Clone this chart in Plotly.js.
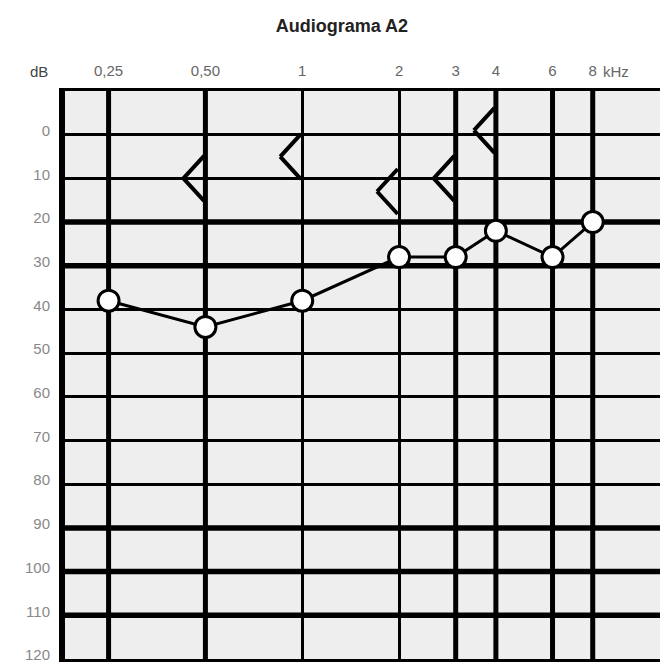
<!DOCTYPE html>
<html>
<head>
<meta charset="utf-8">
<script src="https://cdn.plot.ly/plotly-3.0.1.min.js"></script>
<style>
  html, body { margin: 0; padding: 0; background: #ffffff; }
  #chart { width: 660px; height: 664px; }
</style>
</head>
<body>
<div id="chart"></div>
<script>
// Frequencies (kHz) and their tick labels
const freqs = [0.25, 0.5, 1, 2, 3, 4, 6, 8];
const freqLabels = ['0,25', '0,50', '1', '2', '3', '4', '6', '8'];
// Air conduction thresholds (dB HL), circles "O"
const airDb = [38, 44, 38, 28, 28, 22, 28, 20];
// Bone conduction thresholds (dB HL), symbol "<"
const boneFreqs = [0.5, 1, 2, 3, 4];
const boneDb = [10, 5, 13, 10, -1];
// dB tick values
const dbTicks = [0, 10, 20, 30, 40, 50, 60, 70, 80, 90, 100, 110, 120];
// heavier grid lines
const thickDb = [20, 30, 90, 100, 110];
const thickFreqs = [0.25, 0.5, 3, 4, 6, 8];

const shapes = [];
thickDb.forEach(v => shapes.push({
  type: 'line', xref: 'paper', x0: 0, x1: 1, yref: 'y', y0: v, y1: v,
  line: { color: '#000', width: 5.5 }, layer: 'below'
}));
thickFreqs.forEach(f => shapes.push({
  type: 'line', yref: 'paper', y0: 0, y1: 1, xref: 'x', x0: f, x1: f,
  line: { color: '#000', width: 5 }, layer: 'below'
}));

const traces = [
  {
    x: freqs, y: airDb, type: 'scatter', mode: 'lines+markers',
    line: { color: '#000', width: 3 },
    marker: { symbol: 'circle', size: 21, color: '#ffffff', line: { color: '#000', width: 3 } },
    hoverinfo: 'skip', showlegend: false
  }
];

// Bone conduction "<" symbols: each drawn as two arms meeting at the tip,
// placed at (frequency, dB) on the chart's own axes.
const boneArm = { w: 22, h: 24 };
const annotations = [];
boneFreqs.forEach((f, i) => {
  [-1, 1].forEach(sgn => annotations.push({
    xref: 'x', yref: 'y', x: Math.log10(f), y: boneDb[i],
    xshift: -boneArm.w, text: '', showarrow: true,
    arrowhead: 0, arrowwidth: 4, arrowcolor: '#000',
    ax: boneArm.w, ay: sgn * boneArm.h, axref: 'pixel', ayref: 'pixel',
    standoff: 0, startstandoff: 0
  }));
});
annotations.push(
  { text: 'dB', xref: 'paper', yref: 'paper', x: -0.026, y: 1, yshift: 20,
    xanchor: 'right', yanchor: 'middle', showarrow: false,
    font: { family: 'Liberation Sans', size: 15, color: '#444' } },
  { text: 'kHz', xref: 'x', yref: 'paper', x: Math.log10(8), y: 1, xshift: 8, yshift: 20,
    xanchor: 'left', yanchor: 'middle', showarrow: false,
    font: { family: 'Liberation Sans', size: 15, color: '#666' } }
);

const layout = {
  width: 660, height: 664,
  margin: { l: 65, r: 0, t: 91, b: 5 },
  paper_bgcolor: '#ffffff',
  plot_bgcolor: '#eeeeee',
  showlegend: false,
  title: {
    text: '<b>Audiograma A2</b>',
    x: 0.518, xanchor: 'center', xref: 'container',
    y: 0.961, yanchor: 'middle', yref: 'container',
    font: { family: 'Liberation Sans', size: 18, color: '#222' }
  },
  xaxis: {
    type: 'log',
    range: [Math.log10(0.183), Math.log10(12.95)],
    side: 'top',
    tickmode: 'array', tickvals: freqs, ticktext: freqLabels,
    ticks: '', ticklabelstandoff: 6,
    showgrid: true, gridcolor: '#000', gridwidth: 3,
    showline: true, linecolor: '#000', linewidth: 3, mirror: true,
    zeroline: false, fixedrange: true,
    tickfont: { family: 'Liberation Sans', size: 15, color: '#666' }
  },
  yaxis: {
    range: [120, -10],
    tickmode: 'array', tickvals: dbTicks, ticktext: dbTicks.map(String),
    ticks: '', ticklabelstandoff: 6, ticklabeloverflow: 'allow', ticklabelshift: 4,
    showgrid: true, gridcolor: '#000', gridwidth: 3,
    showline: true, linecolor: '#000', linewidth: 6,
    zeroline: false, fixedrange: true,
    tickfont: { family: 'Liberation Sans', size: 15, color: '#888' }
  },
  shapes: shapes,
  annotations: annotations
};

Plotly.newPlot('chart', traces, layout, { displayModeBar: false, staticPlot: true });
</script>
</body>
</html>
